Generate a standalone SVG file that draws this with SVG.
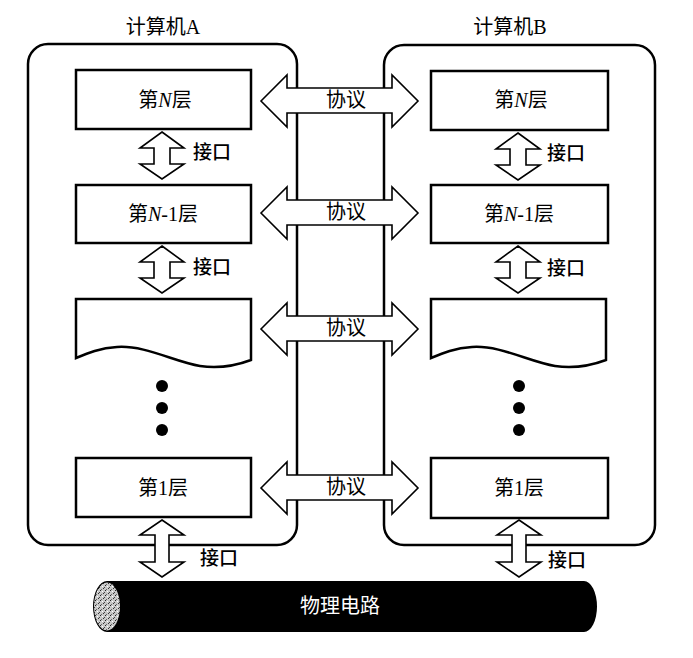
<svg xmlns="http://www.w3.org/2000/svg" width="693" height="658" viewBox="0 0 693 658">
<style>
.cont{fill:none;stroke:#000;stroke-width:2.5}
.box{fill:#fff;stroke:#000;stroke-width:2.5}
.arr{fill:#fff;stroke:#000;stroke-width:1.6;stroke-linejoin:miter}
.t{font-family:"Liberation Serif","Noto Sans CJK SC",serif;font-size:20px;fill:#000;text-anchor:middle}
.lbl{font-family:"Noto Sans CJK SC",sans-serif;font-size:19px;font-weight:500;fill:#000}
.plbl{font-family:"Noto Sans CJK SC",sans-serif;font-size:20px;fill:#000;text-anchor:middle}
.dot{fill:#000}
</style>
<defs>
<path id="proto" d="M261,0 L287,-26 L287,-13 L392,-13 L392,-26 L418,0 L392,26 L392,12 L287,12 L287,26 Z"/>
<path id="ifs" d="M0,0 L22,16 L8,16 L8,32 L22,32 L0,47 L-22,32 L-8,32 L-8,16 L-22,16 Z"/>
<path id="ifl" d="M0,0 L22,15 L7,15 L7,42 L22,42 L0,57 L-22,42 L-7,42 L-7,15 L-22,15 Z"/>
<path id="wave" d="M76,299 H251 V360 C235,366 220,369 200,366 C175,362 145,345 117,347 C100,348 88,353 76,358 Z"/>
<pattern id="tex" width="5" height="5" patternUnits="userSpaceOnUse">
<rect width="5" height="5" fill="#c8c8c8"/>
<rect x="0" y="0" width="1" height="1" fill="#222"/>
<rect x="2" y="1" width="1" height="1" fill="#fff"/>
<rect x="3" y="3" width="1" height="1" fill="#333"/>
<rect x="1" y="4" width="1" height="1" fill="#666"/>
<rect x="4" y="2" width="1" height="1" fill="#444"/>
</pattern>
</defs>
<rect width="693" height="658" fill="#fff"/>

<g id="computerA">
<rect class="cont" x="28" y="44" width="269" height="501" rx="20" ry="20"/>
<text class="t" x="163" y="34" font-size="21">计算机A</text>
</g>
<g id="computerB">
<rect class="cont" x="384" y="45" width="271" height="500" rx="20" ry="20"/>
<text class="t" x="510" y="34" font-size="21">计算机B</text>
</g>

<g id="A-layerN">
<rect class="box" x="76" y="70" width="175" height="59"/>
<text class="t" x="165" y="107">第<tspan font-style="italic">N</tspan>层</text>
</g>
<g id="A-layerN1">
<rect class="box" x="76" y="185" width="175" height="58"/>
<text class="t" x="163" y="221">第<tspan font-style="italic">N</tspan>-1层</text>
</g>
<g id="A-layerX">
<use href="#wave" class="box"/>
</g>
<g id="A-dots">
<circle class="dot" cx="162" cy="386" r="6"/>
<circle class="dot" cx="162" cy="408" r="6"/>
<circle class="dot" cx="162" cy="430" r="6"/>
</g>
<g id="A-layer1">
<rect class="box" x="76" y="458" width="175" height="59"/>
<text class="t" x="163" y="495">第1层</text>
</g>

<g id="B-layerN">
<rect class="box" x="431" y="71" width="177" height="59"/>
<text class="t" x="521" y="107">第<tspan font-style="italic">N</tspan>层</text>
</g>
<g id="B-layerN1">
<rect class="box" x="431" y="185" width="177" height="58"/>
<text class="t" x="519" y="221">第<tspan font-style="italic">N</tspan>-1层</text>
</g>
<g id="B-layerX">
<use href="#wave" class="box" transform="translate(355,0)"/>
</g>
<g id="B-dots">
<circle class="dot" cx="519" cy="386" r="6"/>
<circle class="dot" cx="519" cy="408" r="6"/>
<circle class="dot" cx="519" cy="430" r="6"/>
</g>
<g id="B-layer1">
<rect class="box" x="431" y="458" width="177" height="60"/>
<text class="t" x="519" y="495">第1层</text>
</g>

<g id="physical">
<path d="M107,581 H584 A13,25.5 0 0 1 584,632 H107 A14,25.5 0 0 1 107,581 Z" fill="#000"/>
<ellipse cx="107" cy="606.5" rx="13" ry="24" fill="url(#tex)"/>
<text x="340" y="613" font-family="'Noto Sans CJK SC',sans-serif" font-size="20" fill="#fff" text-anchor="middle">物理电路</text>
</g>

<g id="connectors">
<use href="#proto" class="arr" transform="translate(0,101)"/>
<text class="plbl" x="346" y="107">协议</text>
<use href="#proto" class="arr" transform="translate(0,213)"/>
<text class="plbl" x="346" y="219">协议</text>
<use href="#proto" class="arr" transform="translate(0,329)"/>
<text class="plbl" x="346" y="335">协议</text>
<use href="#proto" class="arr" transform="translate(0,488)"/>
<text class="plbl" x="346" y="494">协议</text>

<use href="#ifs" class="arr" transform="translate(162,132)"/>
<text class="lbl" x="193" y="159">接口</text>
<use href="#ifs" class="arr" transform="translate(162,246)"/>
<text class="lbl" x="193" y="274">接口</text>
<use href="#ifl" class="arr" transform="translate(162,520)"/>
<text class="lbl" x="200" y="565">接口</text>

<use href="#ifs" class="arr" transform="translate(518,133)"/>
<text class="lbl" x="547" y="160">接口</text>
<use href="#ifs" class="arr" transform="translate(518,246)"/>
<text class="lbl" x="547" y="275">接口</text>
<use href="#ifl" class="arr" transform="translate(519,520)"/>
<text class="lbl" x="548" y="567">接口</text>
</g>
</svg>
